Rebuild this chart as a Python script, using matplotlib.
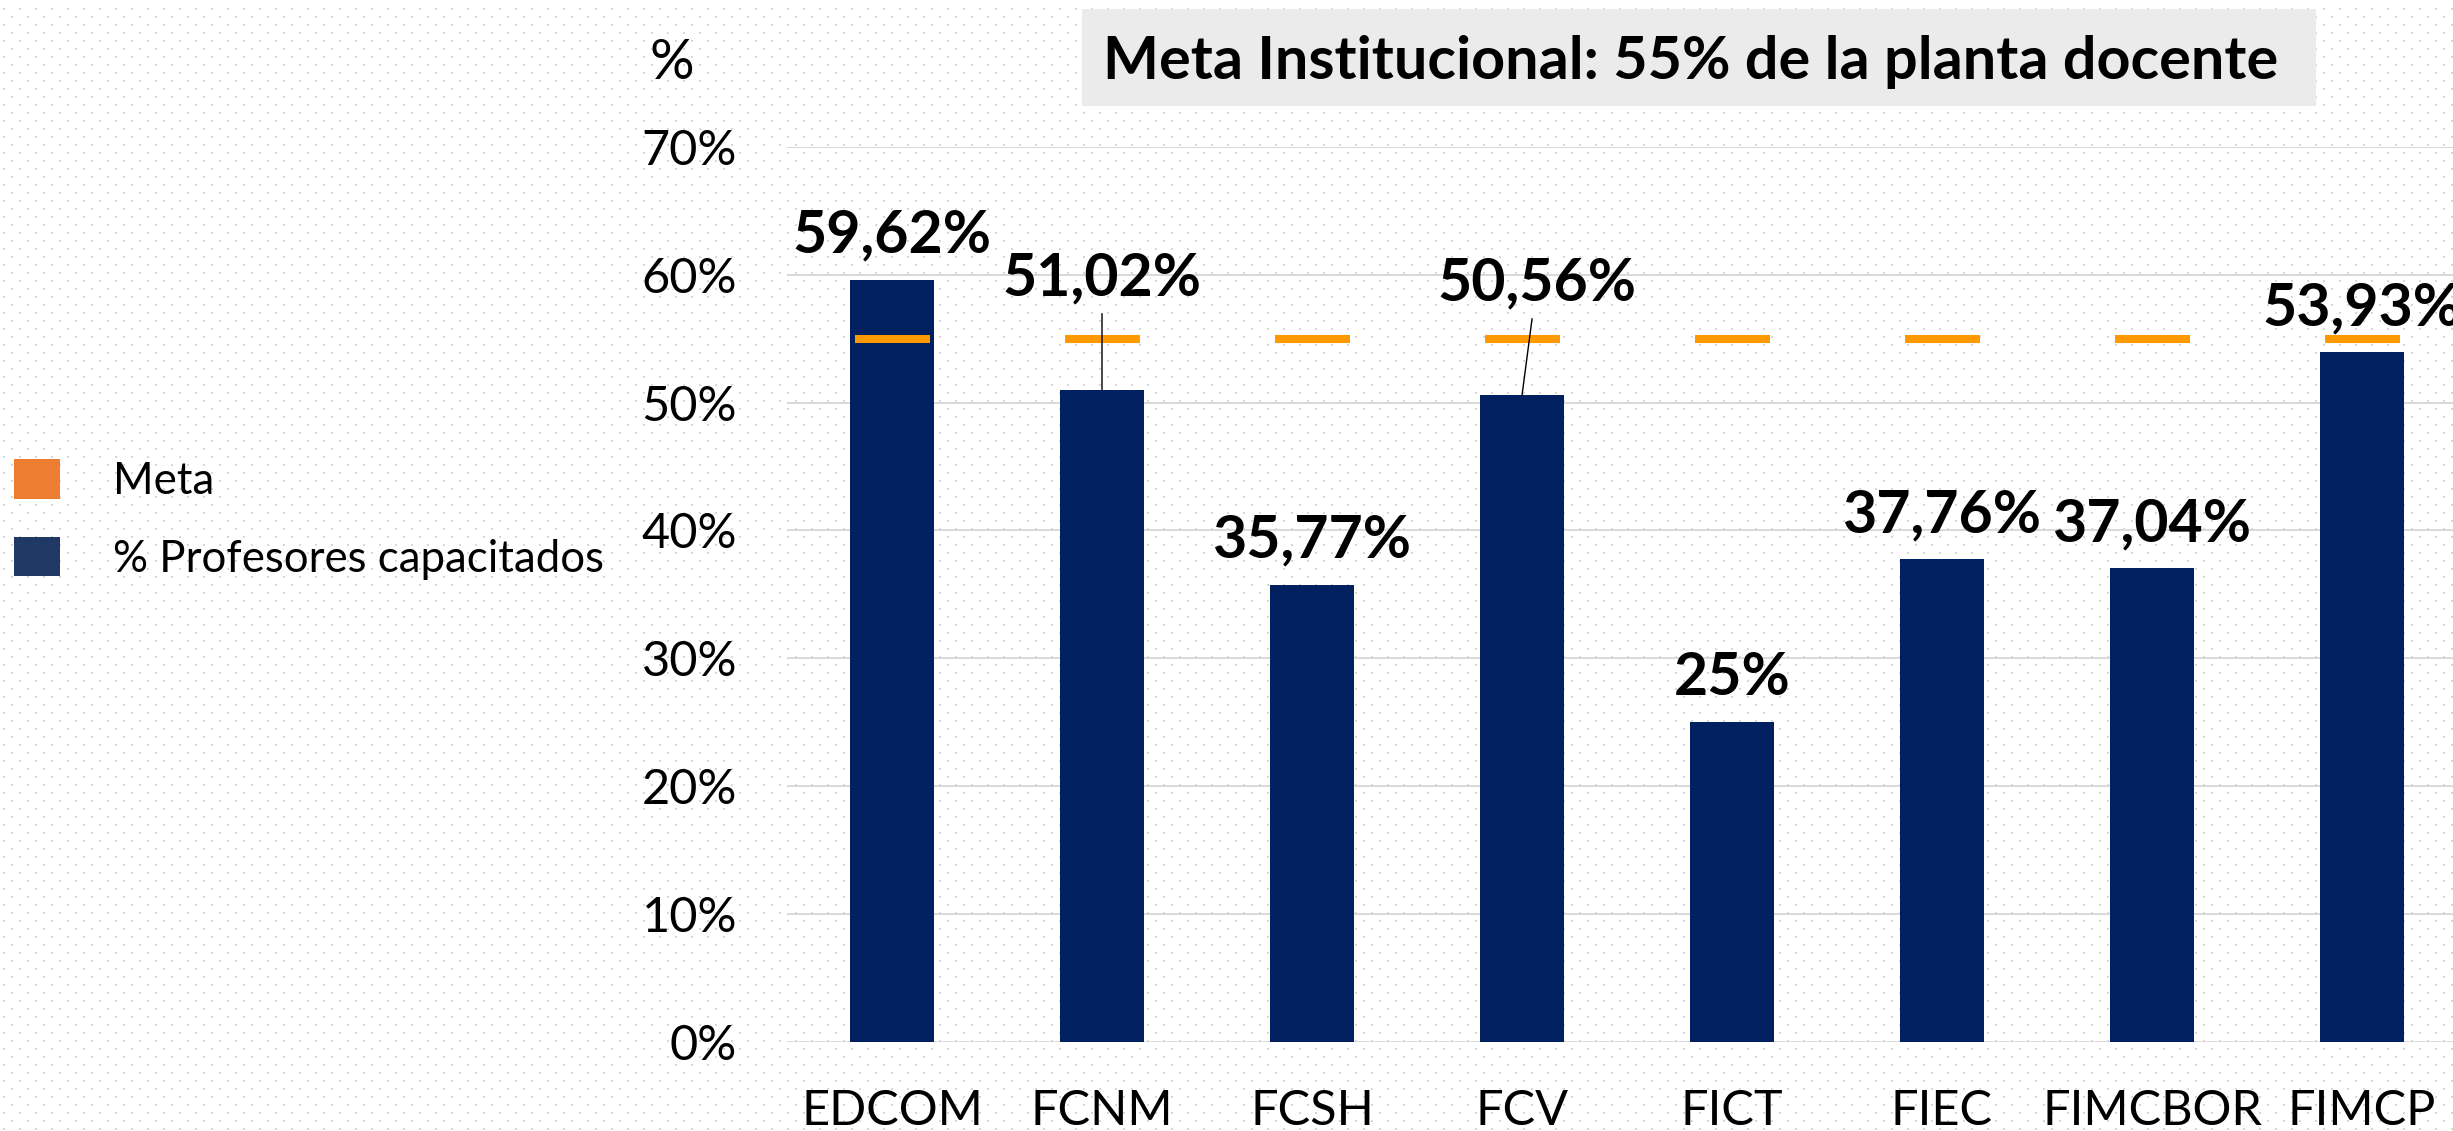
import numpy as np
import matplotlib
matplotlib.use('Agg')
from matplotlib import pyplot as plt
from matplotlib.patches import Patch, Rectangle
from matplotlib.ticker import FuncFormatter

categories = ['EDCOM', 'FCNM', 'FCSH', 'FCV', 'FICT', 'FIEC', 'FIMCBOR', 'FIMCP']
capacitados = [59.62, 51.02, 35.77, 50.56, 25.00, 37.76, 37.04, 53.93]
meta = [55, 55, 55, 55, 55, 55, 55, 55]
yticks = [0, 10, 20, 30, 40, 50, 60, 70]

title = 'Meta Institucional: 55% de la planta docente'
series_names = ['Meta', '% Profesores capacitados']

# labels moved away from the bar: index -> (x shift, baseline height)
moved = {1: (0.0, 58.4), 3: (0.07, 58.0)}

W, H = 2453, 1131
plt.rcParams['font.family'] = ['Lato', 'DejaVu Sans']

fig = plt.figure(figsize=(W / 100, H / 100), dpi=100)

# dotted background
bg = np.ones((H, W, 3))
for r, yy in enumerate(range(8, H, 8)):
    x0 = 3 if r % 2 == 0 else 11
    bg[yy:yy + 2, x0::16] = 0.85
    bg[yy:yy + 2, x0 + 1::16] = 0.85
fig.figimage(bg, xo=0, yo=0, zorder=-10)


def fx(px):
    return px / W


def fy(py):
    return 1 - py / H


ax = fig.add_axes([fx(787), fy(1041.7), fx(2467 - 787), (1041.7 - 147) / H])
ax.set_facecolor('none')

x = np.arange(len(categories))
ax.bar(x, capacitados, width=0.4, color='#002060', zorder=2)
ax.plot(x, meta, ls='none', marker='_', ms=54, mew=5.8, color='#FF9900', zorder=3)

for i, v in enumerate(capacitados):
    lbl = ('%g' % v).replace('.', ',') + '%'
    if i in moved:
        dx, yb = moved[i]
        ax.annotate(lbl, xy=(i, v), xytext=(i + dx, yb), textcoords='data',
                    ha='center', va='baseline', fontsize=42.5, fontweight='bold',
                    arrowprops=dict(arrowstyle='-', color='black', lw=1,
                                    shrinkA=4, shrinkB=0), zorder=4)
    else:
        ax.annotate(lbl, xy=(i, v), xytext=(0, 19.5), textcoords='offset points',
                    ha='center', va='baseline', fontsize=42.5, fontweight='bold', zorder=4)

ax.set_xlim(-0.5, 7.5)
ax.set_ylim(0, 70)
ax.set_yticks(yticks)
ax.yaxis.set_major_formatter(FuncFormatter(lambda v, p: '%d%%' % v))
ax.set_xticks(x, categories)
ax.tick_params(axis='y', length=0, pad=36, labelsize=35)
ax.tick_params(axis='x', length=0, pad=34, labelsize=35)
ax.grid(axis='y', color='#D9D9D9', lw=1.4)
ax.set_axisbelow(True)
for s in ax.spines.values():
    s.set_visible(False)

fig.text(fx(650), fy(79), '%', fontsize=40, va='baseline', ha='left')

# title box
fig.add_artist(Rectangle((fx(1082), fy(106)), fx(2316 - 1082), (106 - 9) / H,
                         transform=fig.transFigure, facecolor='#EBEBEB',
                         edgecolor='none', zorder=1))
fig.text(fx(1103), fy(79), title, fontsize=42.7, fontweight='bold',
         va='baseline', ha='left', zorder=2)

handles = [Patch(facecolor='#ED7D31'), Patch(facecolor='#203864')]
fig.legend(handles, series_names, loc='center left',
           bbox_to_anchor=(fx(14), fy(519.5)), frameon=False,
           fontsize=31.5, handlelength=1.05, handleheight=1.0,
           handletextpad=1.21, labelspacing=0.8, borderpad=0, borderaxespad=0)

fig.savefig('out.png', dpi=100)
